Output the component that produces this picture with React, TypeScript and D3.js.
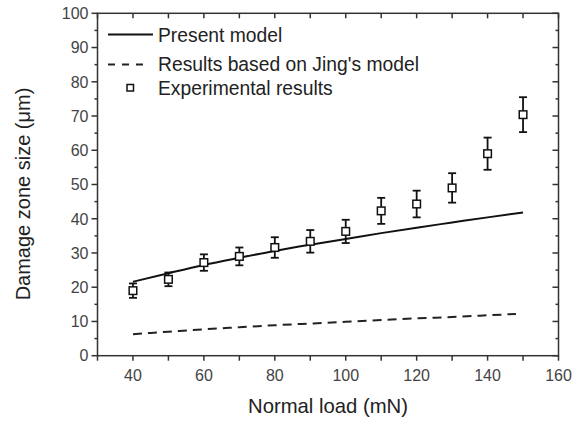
import React from "react";
import * as d3 from "d3";

const W = 582;
const H = 421;
const margin = { left: 97.5, right: 23.5, top: 13.3, bottom: 65.3 };

const expLoad = [40, 50, 60, 70, 80, 90, 100, 110, 120, 130, 140, 150];
const expSize = [19.0, 22.3, 27.2, 29.0, 31.6, 33.4, 36.3, 42.3, 44.3, 49.0, 59.0, 70.4];
const expErr = [2.1, 2.0, 2.4, 2.6, 3.0, 3.3, 3.4, 3.8, 3.9, 4.3, 4.7, 5.1];

const presentLoad = [40, 50, 60, 70, 80, 90, 100, 110, 120, 130, 140, 150];
const presentSize = [21.6, 24.1, 26.5, 28.6, 30.6, 32.4, 34.1, 35.8, 37.4, 38.9, 40.4, 41.8];

const jingLoad = [40, 50, 60, 70, 80, 90, 100, 110, 120, 130, 140, 148];
const jingSize = [6.3, 7.0, 7.7, 8.3, 8.9, 9.4, 9.9, 10.4, 10.9, 11.3, 11.8, 12.2];

const xMajorTicks = [40, 60, 80, 100, 120, 140, 160];
const xAllTicks = [30, 40, 50, 60, 70, 80, 90, 100, 110, 120, 130, 140, 150, 160];
const yMajorTicks = [0, 10, 20, 30, 40, 50, 60, 70, 80, 90, 100];
const yMinorTicks = [5, 15, 25, 35, 45, 55, 65, 75, 85, 95];

const legendLabels = ["Present model", "Results based on Jing's model", "Experimental results"];

export default function App() {
  const x = d3.scaleLinear().domain([30, 160]).range([margin.left, W - margin.right]);
  const y = d3.scaleLinear().domain([0, 100]).range([H - margin.bottom, margin.top]);
  const x0 = x(30), x1 = x(160), y0 = y(0), y1 = y(100);

  const line = d3.line<[number, number]>().x((d) => x(d[0])).y((d) => y(d[1])).curve(d3.curveMonotoneX);
  const presentPath = line(presentLoad.map((v, i) => [v, presentSize[i]]) as [number, number][]) || "";
  const jingPath = line(jingLoad.map((v, i) => [v, jingSize[i]]) as [number, number][]) || "";

  const axisColor = "#333";
  const font = "Arial, 'Liberation Sans', Helvetica, sans-serif";

  return (
    <svg width={W} height={H} style={{ position: "absolute", left: 0, top: 0, background: "#fff" }} fontFamily={font}>
      <rect x={0} y={0} width={W} height={H} fill="#fff" />
      <rect x={x0} y={y1} width={x1 - x0} height={y0 - y1} fill="none" stroke={axisColor} strokeWidth={1.5} />
      {xAllTicks.map((t) => (
        <g key={"xt" + t}>
          <line x1={x(t)} x2={x(t)} y1={y0} y2={y0 + 5} stroke={axisColor} strokeWidth={1.5} />
          <line x1={x(t)} x2={x(t)} y1={y1} y2={y1 + 5} stroke={axisColor} strokeWidth={1.5} />
        </g>
      ))}
      {xMajorTicks.map((t) => (
        <text key={"xl" + t} x={x(t)} y={y0 + 25} textAnchor="middle" fontSize={16} fill="#444">
          {t}
        </text>
      ))}
      {yMajorTicks.map((t) => (
        <g key={"yt" + t}>
          <line x1={x0 - 6} x2={x0} y1={y(t)} y2={y(t)} stroke={axisColor} strokeWidth={1.5} />
          <line x1={x1 - 6} x2={x1} y1={y(t)} y2={y(t)} stroke={axisColor} strokeWidth={1.5} />
          <text x={x0 - 9} y={y(t)} dy="0.36em" textAnchor="end" fontSize={16} fill="#444">
            {t}
          </text>
        </g>
      ))}
      {yMinorTicks.map((t) => (
        <g key={"ym" + t}>
          <line x1={x0 - 3} x2={x0} y1={y(t)} y2={y(t)} stroke={axisColor} strokeWidth={1.5} />
          <line x1={x1 - 3} x2={x1} y1={y(t)} y2={y(t)} stroke={axisColor} strokeWidth={1.5} />
        </g>
      ))}
      <text x={(x0 + x1) / 2} y={413} textAnchor="middle" fontSize={20.3} fill="#222">
        Normal load (mN)
      </text>
      <text transform={`translate(30,194) rotate(-90)`} textAnchor="middle" fontSize={20} fill="#222">
        Damage zone size (μm)
      </text>
      <path d={presentPath} fill="none" stroke="#111" strokeWidth={2} />
      <path d={jingPath} fill="none" stroke="#222" strokeWidth={2} strokeDasharray="9,6" />
      {expLoad.map((v, i) => {
        const cx = x(v);
        const cy = y(expSize[i]);
        const top = y(expSize[i] + expErr[i]);
        const bot = y(expSize[i] - expErr[i]);
        return (
          <g key={"e" + v} stroke="#111" strokeWidth={1.8} fill="none">
            <line x1={cx} x2={cx} y1={top} y2={cy - 4} />
            <line x1={cx} x2={cx} y1={cy + 4} y2={bot} />
            <line x1={cx - 4} x2={cx + 4} y1={top} y2={top} />
            <line x1={cx - 4} x2={cx + 4} y1={bot} y2={bot} />
            <rect x={cx - 3.8} y={cy - 3.8} width={7.6} height={7.6} fill="#fff" strokeWidth={1.5} />
          </g>
        );
      })}
      <line x1={108} x2={153} y1={34.5} y2={34.5} stroke="#111" strokeWidth={2} />
      <text x={158} y={41.7} fontSize={19.3} fill="#222">{legendLabels[0]}</text>
      <line x1={108} x2={150} y1={64.5} y2={64.5} stroke="#222" strokeWidth={2} strokeDasharray="7,7" />
      <text x={158} y={70.7} fontSize={19.3} fill="#222">{legendLabels[1]}</text>
      <rect x={127} y={84.5} width={6.5} height={6.5} fill="#fff" stroke="#111" strokeWidth={1.5} />
      <text x={158} y={95} fontSize={19.3} fill="#222">{legendLabels[2]}</text>
    </svg>
  );
}
